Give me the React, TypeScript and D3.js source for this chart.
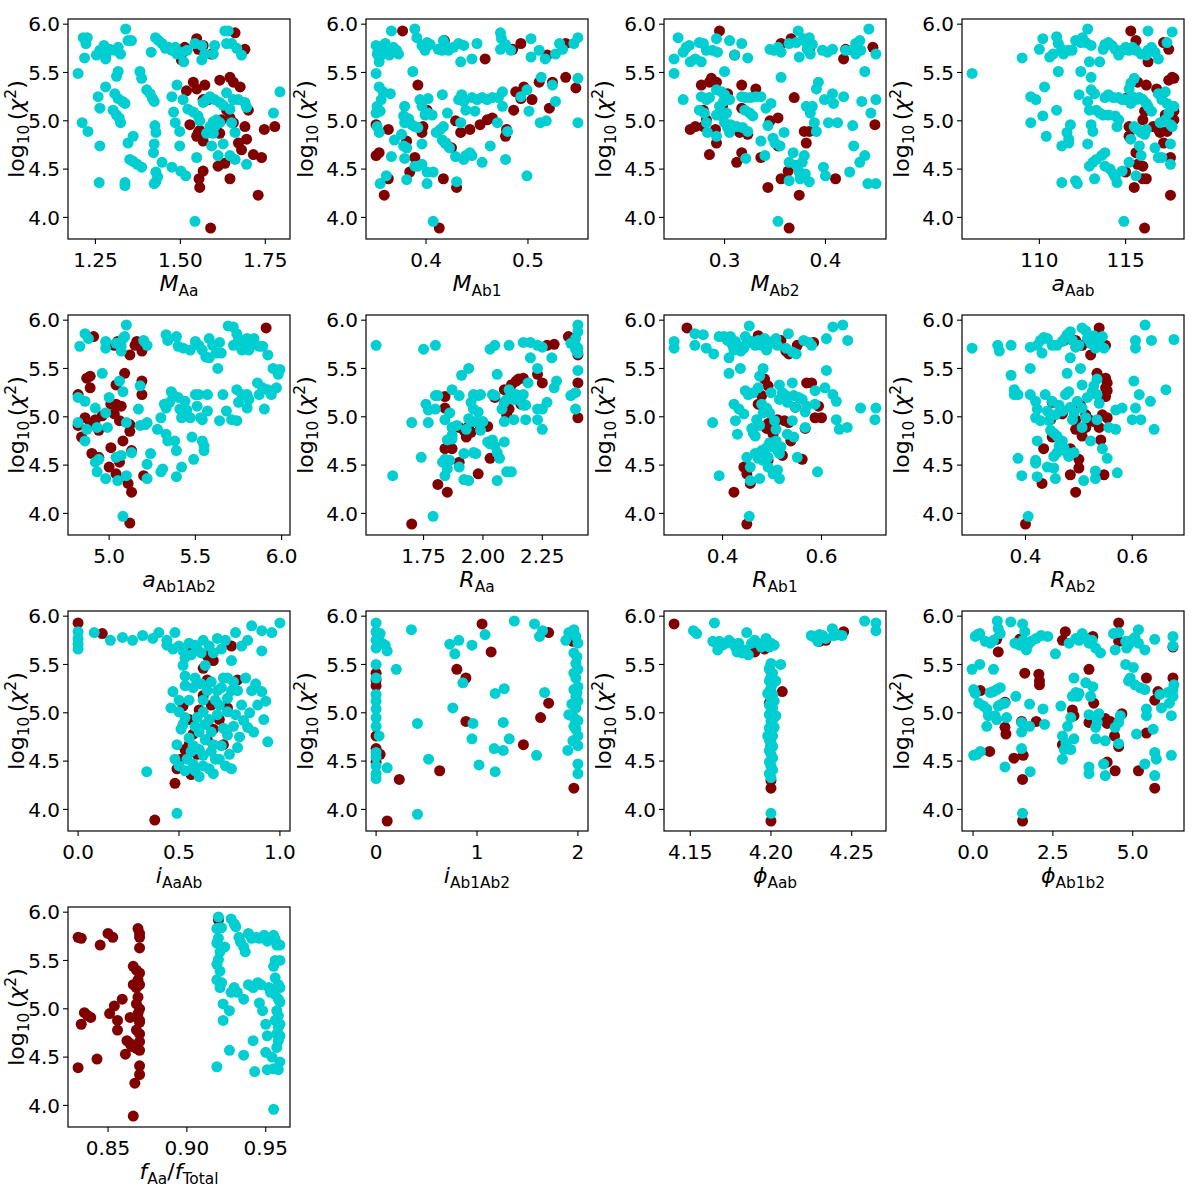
import React from "react";
import * as d3 from "d3";

type Pt = [number, number];

// ---- data: [x, log10(chi^2)] ----
const mAaRed: Pt[] = [[1.503,5.63],[1.508,5.71],[1.513,5.76],[1.548,5.85],[1.553,5.74],[1.567,5.78],[1.518,5.31],[1.538,5.40],[1.548,5.33],[1.572,5.37],[1.528,4.96],[1.553,4.88],[1.548,4.84],[1.567,4.79],[1.557,4.90],[1.567,4.48],[1.555,4.40],[1.557,4.31],[1.567,5.22],[1.582,5.22],[1.592,5.69],[1.661,5.91],[1.690,5.74],[1.616,5.42],[1.646,5.45],[1.656,5.40],[1.676,5.35],[1.621,5.01],[1.636,5.11],[1.646,5.03],[1.656,4.98],[1.616,4.87],[1.611,4.53],[1.631,4.56],[1.646,4.40],[1.671,4.77],[1.680,4.70],[1.695,4.81],[1.690,4.94],[1.700,5.11],[1.715,4.65],[1.739,4.62],[1.747,4.91],[1.778,4.94],[1.729,4.23],[1.589,3.89]];
const mAaCyan: Pt[] = [[1.199,5.49],[1.214,5.86],[1.226,5.86],[1.222,5.80],[1.218,5.65],[1.211,4.98],[1.228,4.89],[1.258,5.25],[1.263,5.13],[1.280,5.35],[1.263,4.74],[1.261,4.36],[1.253,5.68],[1.263,5.73],[1.275,5.78],[1.282,5.69],[1.280,5.64],[1.292,5.74],[1.307,5.73],[1.317,5.76],[1.324,5.69],[1.339,5.95],[1.346,5.83],[1.356,5.83],[1.317,5.51],[1.312,5.46],[1.307,5.28],[1.317,5.23],[1.330,5.20],[1.337,5.18],[1.302,5.11],[1.312,5.06],[1.320,5.03],[1.324,4.98],[1.337,4.36],[1.337,4.33],[1.346,4.77],[1.361,4.84],[1.351,4.60],[1.361,4.58],[1.373,4.55],[1.386,4.52],[1.381,5.51],[1.386,5.44],[1.401,5.32],[1.411,5.28],[1.418,5.23],[1.423,5.20],[1.414,5.71],[1.427,5.86],[1.436,5.83],[1.446,5.80],[1.456,5.75],[1.465,5.76],[1.475,5.73],[1.485,5.76],[1.490,5.69],[1.505,5.71],[1.520,5.73],[1.510,5.61],[1.425,4.95],[1.428,4.88],[1.423,4.76],[1.421,4.67],[1.428,4.47],[1.433,4.42],[1.428,4.37],[1.423,4.35],[1.446,4.57],[1.475,5.25],[1.480,5.09],[1.485,4.98],[1.490,5.37],[1.475,4.52],[1.501,4.48],[1.516,4.43],[1.498,4.89],[1.498,4.74],[1.508,5.22],[1.522,5.12],[1.538,5.09],[1.552,5.05],[1.557,5.00],[1.548,4.62],[1.543,3.96],[1.543,5.80],[1.563,5.78],[1.563,5.63],[1.572,5.69],[1.577,4.87],[1.587,4.94],[1.597,4.99],[1.601,4.94],[1.606,5.01],[1.616,4.98],[1.597,4.87],[1.592,4.74],[1.567,5.19],[1.577,5.22],[1.587,5.25],[1.601,5.22],[1.616,5.19],[1.626,5.16],[1.646,5.12],[1.597,5.69],[1.601,5.78],[1.611,4.64],[1.626,4.76],[1.631,5.93],[1.641,5.93],[1.636,5.80],[1.651,5.80],[1.666,5.75],[1.680,5.68],[1.636,5.29],[1.656,5.22],[1.671,5.22],[1.690,5.19],[1.695,5.14],[1.651,4.98],[1.661,4.88],[1.646,4.64],[1.661,4.60],[1.695,4.55],[1.774,5.08],[1.793,5.30]];

const mAb1Red: Pt[] = [[0.351,4.64],[0.354,4.67],[0.359,4.23],[0.363,4.40],[0.351,4.96],[0.363,4.91],[0.358,5.73],[0.377,5.93],[0.381,4.79],[0.384,4.47],[0.389,4.62],[0.392,5.37],[0.396,4.88],[0.397,4.94],[0.401,5.11],[0.417,4.40],[0.413,3.89],[0.419,4.77],[0.425,4.72],[0.418,5.83],[0.429,5.00],[0.434,4.88],[0.443,4.91],[0.430,4.31],[0.453,4.96],[0.460,5.01],[0.465,5.03],[0.458,5.64],[0.478,4.84],[0.479,4.91],[0.485,5.74],[0.493,5.80],[0.486,5.11],[0.488,5.30],[0.496,5.35],[0.504,5.22],[0.493,5.23],[0.511,5.40],[0.521,5.13],[0.524,5.40],[0.519,5.68],[0.537,5.80],[0.537,5.45],[0.547,5.34]];
const mAb1Cyan: Pt[] = [[0.351,5.78],[0.352,5.69],[0.355,5.74],[0.356,5.68],[0.354,5.61],[0.360,5.80],[0.361,5.73],[0.364,5.68],[0.368,5.76],[0.371,5.73],[0.373,5.69],[0.366,5.93],[0.351,5.49],[0.354,5.35],[0.358,5.30],[0.356,5.22],[0.352,5.15],[0.351,5.08],[0.355,5.10],[0.365,5.28],[0.352,4.94],[0.354,4.88],[0.355,4.35],[0.361,4.43],[0.366,4.63],[0.369,4.80],[0.379,5.15],[0.378,5.05],[0.379,4.98],[0.383,5.02],[0.386,4.96],[0.389,4.94],[0.392,4.93],[0.376,4.86],[0.378,4.74],[0.381,4.72],[0.387,5.51],[0.394,5.22],[0.396,5.15],[0.379,4.61],[0.381,4.39],[0.389,4.53],[0.392,4.53],[0.396,4.55],[0.396,4.76],[0.401,4.47],[0.401,4.35],[0.407,4.47],[0.399,5.06],[0.402,5.08],[0.406,5.06],[0.402,5.23],[0.389,5.95],[0.391,5.86],[0.396,5.78],[0.399,5.73],[0.401,5.81],[0.404,5.79],[0.412,5.74],[0.416,5.73],[0.417,5.83],[0.419,5.78],[0.422,5.73],[0.427,5.76],[0.432,5.80],[0.437,5.78],[0.434,5.61],[0.445,5.64],[0.450,5.80],[0.407,3.96],[0.410,4.88],[0.414,4.91],[0.417,4.94],[0.416,4.80],[0.419,4.77],[0.423,4.72],[0.416,5.27],[0.421,5.08],[0.429,4.63],[0.430,4.37],[0.434,4.98],[0.432,5.22],[0.435,5.27],[0.437,5.20],[0.439,5.11],[0.437,4.60],[0.439,4.64],[0.443,4.67],[0.445,4.64],[0.455,4.57],[0.445,5.24],[0.450,5.22],[0.455,5.24],[0.460,5.22],[0.465,5.24],[0.471,5.24],[0.475,5.30],[0.448,5.10],[0.463,4.74],[0.470,4.98],[0.475,5.15],[0.478,4.60],[0.480,4.89],[0.473,5.91],[0.474,5.85],[0.473,5.74],[0.478,5.79],[0.483,5.73],[0.493,5.25],[0.499,5.32],[0.501,5.10],[0.499,4.43],[0.503,5.85],[0.503,5.66],[0.511,5.73],[0.517,5.64],[0.512,4.98],[0.518,5.00],[0.513,5.45],[0.524,5.37],[0.527,5.20],[0.527,5.69],[0.531,5.80],[0.534,5.74],[0.545,5.80],[0.549,5.86],[0.549,5.44],[0.549,4.98]];

const mAb2Red: Pt[] = [[0.266,4.91],[0.271,4.94],[0.279,4.94],[0.277,5.37],[0.287,5.44],[0.285,5.40],[0.292,5.40],[0.285,4.65],[0.291,4.91],[0.292,4.77],[0.279,5.11],[0.282,5.01],[0.295,5.93],[0.298,5.15],[0.303,5.28],[0.310,5.68],[0.312,4.57],[0.317,4.67],[0.315,4.88],[0.317,5.13],[0.317,5.37],[0.323,4.86],[0.331,5.33],[0.336,4.62],[0.343,4.31],[0.345,5.00],[0.353,5.03],[0.353,4.74],[0.356,4.40],[0.363,4.48],[0.356,5.80],[0.366,5.85],[0.364,3.89],[0.374,4.23],[0.369,5.24],[0.379,4.89],[0.381,4.77],[0.384,4.89],[0.384,5.74],[0.410,4.40],[0.418,5.64],[0.420,5.74],[0.447,5.76],[0.449,4.96]];
const mAb2Cyan: Pt[] = [[0.250,5.64],[0.250,5.49],[0.254,5.86],[0.259,5.71],[0.262,5.76],[0.265,5.78],[0.266,5.61],[0.271,5.64],[0.275,5.81],[0.279,5.80],[0.282,5.73],[0.288,5.73],[0.292,5.85],[0.293,5.71],[0.277,5.61],[0.259,5.22],[0.275,5.11],[0.277,5.25],[0.282,5.22],[0.285,5.24],[0.280,5.08],[0.282,4.98],[0.283,4.88],[0.292,4.84],[0.292,5.32],[0.297,5.30],[0.300,5.27],[0.299,5.20],[0.295,5.15],[0.292,5.06],[0.297,5.05],[0.302,5.08],[0.305,5.22],[0.300,5.51],[0.305,5.83],[0.310,5.68],[0.317,5.80],[0.323,5.65],[0.300,4.98],[0.303,4.93],[0.306,4.96],[0.305,4.88],[0.312,4.94],[0.318,4.93],[0.323,4.89],[0.317,5.25],[0.321,5.24],[0.326,5.24],[0.331,5.25],[0.336,5.25],[0.320,5.11],[0.325,5.08],[0.328,5.05],[0.321,4.61],[0.340,4.64],[0.336,4.79],[0.341,5.13],[0.346,5.18],[0.343,4.95],[0.345,5.74],[0.349,5.73],[0.353,5.76],[0.356,5.71],[0.364,5.80],[0.371,5.81],[0.373,5.93],[0.348,4.82],[0.350,4.77],[0.355,4.74],[0.359,4.88],[0.356,5.45],[0.353,3.96],[0.364,4.57],[0.368,4.67],[0.364,4.38],[0.371,4.54],[0.374,4.47],[0.377,4.57],[0.379,4.64],[0.375,4.40],[0.380,4.45],[0.384,4.37],[0.378,5.85],[0.381,5.81],[0.384,5.86],[0.382,5.74],[0.387,5.79],[0.385,5.69],[0.374,5.66],[0.381,5.15],[0.387,5.15],[0.385,5.08],[0.389,4.98],[0.391,4.89],[0.393,5.40],[0.391,5.33],[0.399,5.22],[0.397,5.73],[0.402,5.71],[0.407,5.74],[0.398,4.52],[0.400,4.43],[0.403,4.98],[0.412,4.98],[0.407,5.28],[0.418,5.25],[0.408,5.18],[0.420,5.73],[0.427,5.73],[0.430,5.80],[0.434,5.83],[0.435,5.73],[0.430,5.69],[0.443,5.95],[0.450,5.69],[0.427,4.95],[0.428,4.74],[0.424,4.47],[0.439,5.51],[0.436,5.20],[0.445,5.08],[0.450,5.22],[0.439,4.64],[0.434,4.57],[0.442,4.35],[0.450,4.35]];

const aAabRed: Pt[] = [[115.0,5.23],[115.0,4.47],[115.5,4.31],[115.2,4.94],[115.2,4.84],[115.3,5.93],[115.6,5.83],[115.5,5.76],[115.7,5.40],[116.2,5.37],[115.6,4.67],[115.7,4.55],[116.0,4.53],[116.0,4.40],[116.2,4.40],[116.1,3.89],[116.0,5.01],[116.1,5.10],[116.3,5.61],[116.6,4.94],[116.8,5.33],[116.9,4.91],[117.0,4.88],[117.2,4.77],[117.3,5.06],[117.4,4.89],[117.5,5.42],[117.7,5.45],[117.8,5.44],[117.5,5.74],[117.2,5.81],[117.6,4.62],[117.6,4.23],[117.8,5.01],[117.8,5.10]];
const aAabCyan: Pt[] = [[106.1,5.49],[109.0,5.65],[109.5,5.25],[109.8,5.22],[109.5,4.98],[110.0,5.74],[110.2,5.85],[110.2,5.05],[110.3,5.35],[110.4,4.84],[110.6,5.66],[110.8,5.69],[111.0,5.87],[111.1,5.80],[111.3,5.74],[111.4,5.69],[111.7,5.73],[111.9,5.73],[111.1,5.51],[111.0,5.11],[111.3,4.74],[111.3,4.36],[111.6,4.88],[111.7,4.81],[111.8,4.96],[111.7,4.77],[112.1,4.38],[112.2,4.35],[112.1,5.83],[112.4,5.81],[112.5,5.86],[112.7,5.81],[113.0,5.78],[112.8,5.95],[112.9,5.61],[113.5,5.61],[112.4,5.51],[112.3,5.27],[113.0,5.45],[113.0,5.32],[113.2,5.28],[112.8,5.20],[112.9,5.11],[113.3,5.11],[113.5,5.08],[113.7,5.06],[114.0,5.06],[113.0,4.96],[113.1,4.89],[112.8,4.76],[112.9,4.53],[113.1,4.57],[113.3,4.60],[113.6,4.64],[113.8,4.67],[113.2,4.40],[113.8,4.53],[114.1,4.50],[114.3,4.45],[114.4,4.42],[114.5,4.36],[114.8,4.48],[113.7,5.74],[113.8,5.79],[114.0,5.81],[114.2,5.78],[114.4,5.74],[114.6,5.68],[114.8,5.73],[115.0,5.76],[115.2,5.73],[115.4,5.76],[115.6,5.73],[115.9,5.69],[116.2,5.68],[116.3,5.73],[116.5,5.76],[116.7,5.71],[116.9,5.64],[116.3,5.93],[113.8,5.24],[114.0,5.27],[114.3,5.24],[114.6,5.24],[114.8,5.22],[115.0,5.22],[115.3,5.18],[115.4,5.25],[115.6,5.22],[115.8,5.24],[116.0,5.22],[116.2,5.18],[116.3,5.15],[116.5,5.10],[114.4,5.05],[114.5,4.94],[114.6,5.01],[115.5,5.44],[115.3,5.39],[115.2,5.33],[115.3,4.81],[115.5,4.94],[115.7,4.91],[115.9,4.88],[116.1,4.86],[116.2,4.91],[115.8,4.74],[115.9,4.64],[114.9,3.96],[115.2,4.57],[115.6,4.43],[116.7,4.72],[116.9,4.62],[117.1,4.62],[116.9,5.28],[117.1,5.22],[117.3,5.30],[117.4,5.18],[117.0,4.98],[117.3,5.01],[117.5,5.08],[117.6,4.96],[117.7,4.94],[117.8,5.15],[117.6,4.76],[117.6,4.55],[117.4,5.81],[117.7,5.92]];

const aAb1Ab2Red: Pt[] = [[4.91,5.83],[5.03,5.74],[5.05,5.78],[5.12,5.64],[5.15,5.74],[5.16,5.78],[5.19,5.68],[4.87,5.40],[4.89,5.42],[4.89,5.30],[4.82,5.23],[5.09,5.45],[5.04,5.33],[5.19,5.23],[5.19,5.37],[4.82,4.91],[4.84,4.79],[4.86,4.99],[4.89,4.91],[4.92,4.97],[4.94,4.86],[4.96,5.01],[4.90,4.62],[4.94,4.58],[5.01,5.13],[5.04,5.13],[5.07,5.11],[5.03,5.03],[5.06,4.96],[5.12,4.92],[5.12,4.85],[5.08,4.75],[5.13,4.65],[5.01,4.68],[5.00,4.48],[5.04,4.41],[5.06,4.53],[5.11,4.31],[5.13,4.22],[5.20,4.39],[5.12,3.90],[5.91,5.92]];
const aAb1Ab2Cyan: Pt[] = [[4.83,5.73],[4.86,5.86],[4.88,5.81],[4.98,5.78],[4.98,5.71],[5.04,5.76],[5.07,5.73],[5.08,5.81],[5.09,5.83],[5.10,5.95],[5.07,5.68],[5.20,5.79],[5.22,5.74],[4.82,5.20],[4.86,5.16],[4.82,4.94],[4.87,4.87],[4.86,4.75],[4.93,4.89],[4.92,5.09],[4.96,5.45],[4.92,4.53],[4.94,4.56],[4.93,4.43],[4.98,4.36],[4.98,5.04],[5.00,5.20],[4.99,4.89],[5.04,4.58],[5.05,4.34],[5.07,4.60],[5.08,5.26],[5.06,5.37],[5.10,4.94],[5.10,4.39],[5.13,4.63],[5.08,3.97],[5.18,5.32],[5.17,5.08],[5.18,4.91],[5.21,4.92],[5.22,4.94],[5.22,4.51],[5.24,4.62],[5.22,4.36],[5.28,4.87],[5.30,4.99],[5.31,4.46],[5.30,4.43],[5.32,5.13],[5.33,5.09],[5.35,5.15],[5.33,4.82],[5.34,4.75],[5.36,5.26],[5.37,5.23],[5.38,4.75],[5.39,4.65],[5.39,4.38],[5.42,4.48],[5.33,5.85],[5.34,5.79],[5.39,5.83],[5.40,5.73],[5.43,5.71],[5.47,5.69],[5.50,5.78],[5.52,5.74],[5.54,5.69],[5.56,5.62],[5.58,5.61],[5.58,5.81],[5.60,5.74],[5.62,5.66],[5.63,5.50],[5.64,5.77],[5.65,5.66],[5.69,5.94],[5.72,5.93],[5.72,5.74],[5.74,5.86],[5.75,5.81],[5.76,5.74],[5.77,5.69],[5.80,5.74],[5.80,5.81],[5.81,5.69],[5.83,5.74],[5.84,5.81],[5.87,5.73],[5.89,5.73],[5.92,5.64],[5.40,5.20],[5.41,5.08],[5.42,4.99],[5.44,5.16],[5.45,5.07],[5.47,4.99],[5.50,5.23],[5.51,5.11],[5.52,5.23],[5.53,4.99],[5.57,5.23],[5.57,5.06],[5.54,4.97],[5.48,4.79],[5.49,4.56],[5.54,4.75],[5.55,4.70],[5.55,4.65],[5.64,4.96],[5.66,5.23],[5.68,5.06],[5.71,4.97],[5.74,4.96],[5.74,5.28],[5.75,5.15],[5.77,5.23],[5.80,5.23],[5.80,5.09],[5.81,5.18],[5.86,5.35],[5.87,5.23],[5.89,5.30],[5.90,5.08],[5.92,5.28],[5.94,5.23],[5.95,5.50],[5.97,5.30],[5.98,5.44],[5.99,5.49]];

const rAaRed: Pt[] = [[1.70,3.89],[1.81,4.30],[1.85,4.22],[1.84,4.67],[1.87,4.67],[1.90,4.53],[1.84,5.09],[1.84,5.21],[1.90,4.89],[1.92,4.86],[1.93,4.79],[1.94,4.90],[1.98,4.41],[2.02,4.90],[2.03,4.57],[1.95,4.84],[1.99,4.88],[2.05,5.20],[2.09,5.28],[2.10,5.02],[2.11,5.08],[2.12,5.33],[2.14,5.37],[2.15,5.39],[2.17,5.40],[2.16,5.13],[2.23,5.44],[2.25,5.35],[2.27,5.74],[2.30,5.75],[2.36,5.83],[2.40,5.35],[2.40,4.99],[2.40,5.64]];
const rAaCyan: Pt[] = [[1.55,5.74],[1.75,5.70],[1.80,5.74],[1.70,4.94],[1.74,4.58],[1.62,4.39],[1.79,3.97],[1.77,4.94],[1.76,5.13],[1.77,5.07],[1.80,5.22],[1.81,5.22],[1.80,5.08],[1.83,4.53],[1.84,4.39],[1.85,4.46],[1.84,4.56],[1.86,4.55],[1.85,4.76],[1.84,4.97],[1.87,5.28],[1.86,5.04],[1.87,4.89],[1.87,4.81],[1.89,4.91],[1.87,4.77],[1.90,4.48],[1.92,4.62],[1.90,5.22],[1.91,5.43],[1.94,5.50],[1.92,4.35],[1.94,4.34],[1.93,4.87],[1.94,4.98],[1.95,5.15],[1.96,5.23],[1.95,4.95],[1.96,5.08],[1.97,4.95],[1.98,5.05],[1.98,5.22],[1.99,5.23],[1.96,4.63],[1.97,4.62],[1.99,4.86],[2.00,4.95],[2.02,4.74],[2.03,4.72],[2.04,4.76],[2.05,4.70],[2.06,4.63],[2.07,4.57],[2.09,4.74],[2.09,4.95],[2.04,5.23],[2.05,5.22],[2.06,5.44],[2.06,4.34],[2.03,5.70],[2.05,5.74],[2.11,5.74],[2.08,5.08],[2.09,5.15],[2.10,5.18],[2.11,5.28],[2.12,5.22],[2.13,5.18],[2.14,5.23],[2.15,5.22],[2.16,5.16],[2.17,5.12],[2.18,5.12],[2.17,5.23],[2.13,4.97],[2.10,4.43],[2.12,4.43],[2.17,5.77],[2.20,5.61],[2.20,5.77],[2.23,5.74],[2.23,5.50],[2.25,5.72],[2.29,5.61],[2.19,5.35],[2.18,4.97],[2.23,5.08],[2.23,4.97],[2.25,4.87],[2.25,5.08],[2.27,5.15],[2.30,5.30],[2.31,5.37],[2.37,5.22],[2.39,5.08],[2.39,5.25],[2.40,5.48],[2.40,5.95],[2.40,5.88],[2.39,5.81],[2.38,5.77],[2.39,5.74],[2.40,5.71],[2.39,5.70],[2.37,5.76],[2.40,5.66]];

const rAb1Red: Pt[] = [[0.328,5.92],[0.472,5.84],[0.518,5.79],[0.528,5.68],[0.534,5.65],[0.551,5.74],[0.584,5.77],[0.485,5.39],[0.492,5.32],[0.479,5.22],[0.472,5.13],[0.492,4.93],[0.489,4.88],[0.498,4.88],[0.502,4.82],[0.511,4.97],[0.525,4.96],[0.534,4.94],[0.538,4.75],[0.443,4.48],[0.449,4.41],[0.456,4.31],[0.423,4.22],[0.449,3.89],[0.492,4.55],[0.521,4.60],[0.561,4.56],[0.547,5.10],[0.567,4.88],[0.570,5.35],[0.580,5.35],[0.587,4.99],[0.594,5.11],[0.600,4.99]];
const rAb1Cyan: Pt[] = [[0.302,5.78],[0.302,5.71],[0.344,5.86],[0.344,5.74],[0.361,5.85],[0.367,5.71],[0.382,5.65],[0.393,5.83],[0.403,5.83],[0.410,5.79],[0.416,5.83],[0.413,5.61],[0.420,5.74],[0.423,5.69],[0.426,5.78],[0.433,5.73],[0.437,5.68],[0.443,5.71],[0.446,5.83],[0.449,5.76],[0.454,5.94],[0.459,5.78],[0.466,5.74],[0.472,5.79],[0.479,5.74],[0.485,5.81],[0.489,5.69],[0.492,5.78],[0.502,5.76],[0.508,5.81],[0.511,5.74],[0.528,5.71],[0.533,5.86],[0.541,5.67],[0.549,5.65],[0.564,5.79],[0.575,5.77],[0.580,5.74],[0.413,5.45],[0.436,5.50],[0.380,4.94],[0.393,4.39],[0.423,5.13],[0.426,4.96],[0.433,5.08],[0.430,4.82],[0.443,5.03],[0.446,5.27],[0.452,5.23],[0.462,5.25],[0.466,4.80],[0.459,4.88],[0.462,4.83],[0.449,4.58],[0.456,4.48],[0.456,4.34],[0.454,3.97],[0.472,5.30],[0.475,5.42],[0.482,5.50],[0.479,5.13],[0.482,5.04],[0.469,4.97],[0.475,4.91],[0.489,5.09],[0.495,5.04],[0.498,5.25],[0.505,4.96],[0.508,4.87],[0.466,4.62],[0.472,4.57],[0.479,4.65],[0.482,4.55],[0.489,4.68],[0.495,4.73],[0.502,4.69],[0.508,4.75],[0.511,4.65],[0.515,4.62],[0.518,4.69],[0.492,4.58],[0.475,4.36],[0.492,4.48],[0.502,4.41],[0.511,4.45],[0.515,4.36],[0.515,5.33],[0.521,5.25],[0.515,5.18],[0.528,5.22],[0.531,5.15],[0.541,5.35],[0.544,5.22],[0.547,5.10],[0.554,5.20],[0.561,5.18],[0.567,5.05],[0.570,5.11],[0.587,5.13],[0.587,5.27],[0.531,4.82],[0.541,4.96],[0.544,4.79],[0.551,4.58],[0.567,4.89],[0.592,4.43],[0.607,5.30],[0.610,5.48],[0.623,5.23],[0.630,5.16],[0.630,4.97],[0.636,4.87],[0.652,4.89],[0.679,5.09],[0.708,4.97],[0.710,5.09],[0.610,5.81],[0.623,5.93],[0.643,5.95],[0.653,5.79]];

const rAb2Red: Pt[] = [[0.472,5.79],[0.494,5.79],[0.506,5.74],[0.522,5.64],[0.538,5.92],[0.550,5.74],[0.534,5.45],[0.550,5.40],[0.550,5.30],[0.553,5.27],[0.550,5.21],[0.553,5.35],[0.450,5.15],[0.447,4.97],[0.450,4.79],[0.434,4.67],[0.431,4.31],[0.469,5.03],[0.494,4.97],[0.494,4.87],[0.503,5.12],[0.506,4.80],[0.513,4.89],[0.513,5.02],[0.484,4.67],[0.500,4.56],[0.500,4.47],[0.484,4.40],[0.494,4.22],[0.400,3.89],[0.519,4.97],[0.528,4.95],[0.538,4.89],[0.544,5.02],[0.553,4.99],[0.541,4.76],[0.547,4.40]];
const rAb2Cyan: Pt[] = [[0.300,5.71],[0.348,5.74],[0.351,5.68],[0.373,5.74],[0.373,5.43],[0.379,5.28],[0.379,5.23],[0.386,5.23],[0.386,4.57],[0.393,4.39],[0.405,3.97],[0.409,5.50],[0.409,5.72],[0.409,5.23],[0.419,5.16],[0.419,4.99],[0.422,5.08],[0.428,4.96],[0.422,4.75],[0.419,4.55],[0.419,4.52],[0.422,4.38],[0.422,5.74],[0.428,5.79],[0.434,5.82],[0.441,5.81],[0.431,5.66],[0.437,5.23],[0.441,5.06],[0.444,4.96],[0.441,4.48],[0.450,5.74],[0.459,5.74],[0.469,5.78],[0.475,5.82],[0.478,5.85],[0.484,5.88],[0.488,5.79],[0.494,5.72],[0.500,5.74],[0.506,5.92],[0.513,5.89],[0.516,5.81],[0.522,5.76],[0.528,5.84],[0.531,5.71],[0.538,5.76],[0.544,5.83],[0.547,5.71],[0.484,5.61],[0.478,5.45],[0.503,5.50],[0.506,5.33],[0.516,5.20],[0.525,5.26],[0.528,5.32],[0.534,5.23],[0.538,5.14],[0.534,5.39],[0.450,5.16],[0.456,5.02],[0.463,5.12],[0.469,5.06],[0.475,5.23],[0.481,5.26],[0.484,5.10],[0.488,4.97],[0.491,5.04],[0.497,5.16],[0.506,5.09],[0.513,4.99],[0.447,4.86],[0.453,4.83],[0.459,4.80],[0.469,4.75],[0.463,4.70],[0.459,4.63],[0.453,4.59],[0.472,4.68],[0.478,4.63],[0.481,4.59],[0.491,4.63],[0.506,4.89],[0.522,4.75],[0.453,4.47],[0.456,4.36],[0.509,4.34],[0.531,4.44],[0.531,4.36],[0.534,4.97],[0.544,4.67],[0.553,4.57],[0.556,4.89],[0.569,4.87],[0.572,4.42],[0.569,5.07],[0.581,5.09],[0.603,5.37],[0.606,5.09],[0.600,4.97],[0.613,5.23],[0.616,4.97],[0.634,5.16],[0.641,4.87],[0.663,5.28],[0.606,5.71],[0.606,5.79],[0.624,5.95],[0.636,5.79],[0.678,5.80]];

const iAaAbRed: Pt[] = [[0.00,5.93],[0.12,5.82],[0.38,3.89],[0.48,4.27],[0.49,4.42],[0.51,4.52],[0.53,4.62],[0.55,4.67],[0.57,4.78],[0.55,4.93],[0.60,5.03],[0.62,5.18],[0.64,5.34],[0.62,5.46],[0.67,5.54],[0.70,4.93],[0.72,4.67],[0.67,4.83],[0.74,5.05],[0.79,5.34],[0.76,5.69],[0.64,5.59],[0.57,5.64],[0.56,4.36],[0.59,4.57],[0.64,4.72],[0.52,5.07],[0.66,5.08]];
const iAaAbCyan: Pt[] = [[0.00,5.84],[0.00,5.77],[0.00,5.71],[0.00,5.66],[0.08,5.83],[0.16,5.75],[0.22,5.78],[0.27,5.75],[0.32,5.80],[0.37,5.77],[0.40,5.83],[0.44,5.75],[0.48,5.83],[0.50,5.69],[0.52,5.64],[0.55,5.72],[0.59,5.66],[0.62,5.75],[0.65,5.69],[0.69,5.77],[0.73,5.75],[0.78,5.83],[0.81,5.69],[0.86,5.90],[0.91,5.85],[0.96,5.83],[1.00,5.93],[0.91,5.64],[0.84,5.75],[0.34,4.39],[0.49,3.96],[0.52,5.49],[0.50,5.13],[0.50,5.01],[0.52,4.88],[0.55,4.74],[0.56,4.60],[0.57,4.47],[0.60,4.34],[0.62,5.13],[0.64,5.23],[0.65,4.93],[0.67,4.67],[0.68,4.52],[0.70,5.08],[0.72,5.36],[0.74,4.77],[0.76,5.23],[0.78,4.98],[0.79,4.64],[0.81,5.08],[0.84,4.85],[0.86,5.23],[0.89,5.08],[0.92,4.93],[0.94,4.70],[0.70,4.52],[0.67,4.37],[0.60,4.80],[0.59,4.95],[0.62,5.01],[0.55,5.13],[0.57,5.26],[0.60,4.62],[0.63,4.72],[0.54,4.52],[0.49,4.67],[0.48,4.52],[0.51,4.83],[0.74,5.01],[0.75,4.57],[0.76,4.42],[0.65,4.42],[0.79,5.23],[0.68,5.13],[0.69,5.23],[0.63,5.49],[0.76,5.54],[0.74,5.36],[0.46,5.05],[0.47,5.22],[0.53,5.28],[0.53,5.38],[0.58,5.36],[0.61,5.30],[0.66,5.32],[0.71,5.26],[0.77,5.32],[0.83,5.36],[0.88,5.30],[0.91,5.22],[0.93,5.12],[0.85,5.00],[0.82,4.92],[0.87,4.80],[0.80,4.75],[0.77,4.86],[0.72,4.84],[0.66,4.80],[0.63,4.88],[0.58,4.86],[0.53,4.95],[0.57,4.66],[0.62,4.56],[0.66,4.60],[0.71,4.66],[0.73,4.45],[0.62,4.45],[0.58,4.40],[0.53,4.40],[0.50,4.45],[0.69,4.98],[0.74,5.15],[0.56,5.60],[0.53,5.57],[0.58,5.70],[0.61,5.62],[0.67,5.62],[0.71,5.66],[0.47,5.66],[0.44,5.70]];

const iAb1Ab2Red: Pt[] = [[0.00,5.41],[0.00,5.34],[0.00,5.28],[0.00,4.76],[0.00,4.63],[0.04,4.57],[0.00,4.49],[0.11,3.88],[0.23,4.31],[0.63,4.40],[0.80,5.45],[0.89,5.36],[0.89,4.91],[1.05,5.92],[1.14,5.63],[1.46,4.67],[1.63,4.95],[1.71,5.10],[1.71,5.83],[1.96,4.22],[1.95,5.74]];
const iAb1Ab2Cyan: Pt[] = [[0.00,5.93],[0.00,5.84],[0.01,5.81],[0.00,5.75],[0.02,5.72],[0.00,5.67],[0.04,5.82],[0.06,5.72],[0.09,5.70],[0.11,5.64],[0.00,5.50],[0.00,5.36],[0.00,5.19],[0.00,5.12],[0.00,5.04],[0.00,4.95],[0.00,4.86],[0.00,4.59],[0.00,4.54],[0.00,4.45],[0.00,4.37],[0.00,4.32],[0.03,4.76],[0.11,4.43],[0.20,5.45],[0.35,5.86],[0.41,3.95],[0.41,4.89],[0.52,4.52],[0.73,5.71],[0.78,5.61],[0.82,5.75],[0.76,5.05],[0.86,5.31],[0.95,5.70],[0.96,4.89],[0.95,4.73],[1.02,4.46],[1.08,5.81],[1.18,5.20],[1.27,5.25],[1.26,4.90],[1.17,4.63],[1.26,4.61],[1.32,4.73],[1.18,4.39],[1.37,5.95],[1.57,5.92],[1.62,5.79],[1.65,5.85],[1.67,5.21],[1.59,4.56],[1.88,5.75],[1.91,5.83],[1.96,5.86],[1.98,5.79],[2.00,5.72],[1.96,5.62],[1.98,5.51],[2.00,5.45],[1.98,5.36],[2.00,5.27],[1.96,5.24],[1.98,5.17],[2.00,5.12],[1.94,5.09],[1.98,5.05],[1.91,4.98],[1.96,4.95],[2.00,4.92],[1.98,4.83],[2.00,4.76],[1.95,4.71],[2.00,4.66],[1.90,4.61],[2.00,4.47],[2.00,4.37],[1.99,5.58],[1.96,5.41],[1.99,5.21],[1.96,4.86]];

const phiAabRed: Pt[] = [[4.140,5.92],[4.190,5.63],[4.196,5.66],[4.207,5.22],[4.200,4.22],[4.200,3.88],[4.199,5.10],[4.200,4.66],[4.200,4.30],[4.245,5.84],[4.234,5.75],[4.230,5.74]];
const phiAabCyan: Pt[] = [[4.152,5.85],[4.154,5.82],[4.165,5.93],[4.164,5.74],[4.166,5.72],[4.168,5.74],[4.167,5.65],[4.170,5.70],[4.172,5.72],[4.174,5.75],[4.176,5.72],[4.178,5.68],[4.180,5.72],[4.179,5.63],[4.182,5.62],[4.184,5.65],[4.185,5.83],[4.186,5.60],[4.188,5.72],[4.190,5.75],[4.192,5.72],[4.194,5.68],[4.197,5.77],[4.200,5.72],[4.202,5.70],[4.199,5.68],[4.206,5.50],[4.199,5.46],[4.200,5.51],[4.199,5.45],[4.201,5.41],[4.200,5.37],[4.199,5.33],[4.201,5.30],[4.200,5.26],[4.199,5.22],[4.201,5.19],[4.200,5.15],[4.202,5.12],[4.199,5.08],[4.201,5.05],[4.200,5.01],[4.199,4.98],[4.202,4.95],[4.200,4.91],[4.201,4.87],[4.199,4.84],[4.200,4.80],[4.201,4.76],[4.199,4.72],[4.200,4.69],[4.201,4.65],[4.199,4.61],[4.200,4.57],[4.201,4.53],[4.199,4.49],[4.200,4.45],[4.201,4.41],[4.199,4.37],[4.200,4.33],[4.203,5.33],[4.203,4.97],[4.202,4.85],[4.198,5.20],[4.198,4.76],[4.200,3.96],[4.225,5.80],[4.227,5.78],[4.229,5.74],[4.230,5.81],[4.232,5.80],[4.234,5.77],[4.238,5.87],[4.239,5.80],[4.241,5.81],[4.244,5.80],[4.258,5.95],[4.265,5.93],[4.265,5.85]];

const phiAb1b2Red: Pt[] = [[0.74,5.76],[0.79,5.63],[0.52,4.60],[0.23,5.23],[1.00,4.85],[1.03,4.78],[1.00,5.11],[1.46,5.76],[1.62,5.41],[1.52,4.91],[1.28,4.53],[1.57,4.56],[1.55,4.31],[1.55,3.88],[2.06,5.40],[2.08,5.33],[2.08,5.29],[1.98,4.91],[2.80,4.67],[2.89,5.84],[2.80,5.75],[3.11,5.03],[3.16,4.97],[3.63,5.45],[3.63,4.90],[3.78,5.10],[3.75,5.79],[4.14,4.94],[4.20,4.89],[4.30,4.91],[4.43,4.76],[4.45,4.40],[4.20,4.49],[4.56,5.93],[4.56,5.74],[4.66,4.99],[4.56,4.65],[5.18,4.40],[5.43,5.36],[5.43,4.79],[5.69,5.13],[5.79,5.22],[5.69,4.22],[6.26,5.36],[6.26,5.68]];
const phiAb1b2Cyan: Pt[] = [[-0.03,5.45],[0.02,5.24],[0.07,5.20],[0.07,5.79],[0.14,5.81],[0.21,5.82],[0.02,4.56],[0.12,4.57],[0.23,4.60],[0.21,5.50],[0.38,5.74],[0.54,5.72],[0.64,5.75],[0.18,5.10],[0.33,5.07],[0.43,5.04],[0.48,4.97],[0.43,4.86],[0.54,5.21],[0.64,5.22],[0.74,5.24],[0.85,5.26],[0.64,5.45],[0.69,4.97],[0.74,4.93],[0.79,5.07],[0.90,5.09],[1.00,5.10],[1.05,4.95],[1.00,4.44],[0.76,5.95],[0.79,5.87],[0.85,5.82],[1.18,5.94],[1.31,5.72],[1.46,5.70],[1.55,5.92],[1.62,5.84],[1.57,5.75],[1.72,5.70],[1.67,5.65],[1.82,5.74],[1.98,5.77],[2.13,5.80],[2.34,5.79],[1.34,5.17],[1.77,5.09],[2.19,5.04],[2.24,4.88],[1.52,4.80],[1.52,4.63],[1.55,3.96],[1.79,4.39],[1.52,4.90],[1.77,4.86],[2.58,5.61],[2.75,5.07],[2.80,4.76],[2.80,4.52],[2.86,4.62],[2.91,4.69],[2.96,4.86],[3.01,5.72],[3.06,4.62],[3.06,4.95],[3.16,4.73],[3.11,5.17],[3.16,5.36],[3.22,5.21],[3.27,5.17],[3.32,5.20],[3.22,5.77],[3.32,5.75],[3.42,5.82],[3.53,5.77],[3.63,5.72],[3.73,5.75],[3.84,5.67],[3.99,5.62],[3.53,5.31],[3.68,5.17],[3.75,5.27],[3.63,4.98],[3.84,4.96],[3.89,4.90],[3.84,4.73],[3.63,4.44],[3.63,4.37],[4.14,4.71],[4.09,4.47],[4.14,4.35],[3.84,4.85],[3.94,4.99],[4.40,5.82],[4.56,5.83],[4.45,5.65],[4.56,4.90],[4.45,4.85],[4.61,4.97],[4.56,4.68],[4.78,5.74],[4.81,5.67],[4.87,5.70],[4.97,5.75],[5.07,5.78],[5.18,5.86],[5.18,5.72],[5.38,5.65],[4.78,5.50],[4.92,5.36],[5.02,5.47],[4.87,5.33],[5.07,5.29],[5.23,5.26],[5.38,5.24],[5.12,4.78],[5.38,4.47],[5.43,4.97],[5.43,5.04],[5.64,4.83],[5.69,5.76],[5.69,4.59],[5.74,4.52],[5.69,4.35],[5.85,5.19],[5.90,5.05],[6.10,5.21],[6.15,5.10],[6.21,4.97],[6.26,5.24],[6.29,5.29],[6.26,5.69],[6.26,5.79],[6.21,4.56],[6.26,5.17]];

const fRatioRed: Pt[] = [[0.831,4.39],[0.831,5.74],[0.833,5.73],[0.833,4.84],[0.835,4.96],[0.837,4.93],[0.839,4.91],[0.843,4.48],[0.845,5.66],[0.850,5.78],[0.853,5.74],[0.851,4.95],[0.854,5.03],[0.856,4.88],[0.856,4.78],[0.859,5.10],[0.861,4.53],[0.862,4.67],[0.864,4.64],[0.864,4.91],[0.865,4.61],[0.866,5.25],[0.866,5.44],[0.869,5.83],[0.870,5.78],[0.870,5.74],[0.870,5.63],[0.868,5.40],[0.870,5.37],[0.869,5.30],[0.870,5.25],[0.868,5.22],[0.869,5.12],[0.870,5.00],[0.869,4.95],[0.870,4.88],[0.868,4.78],[0.870,4.74],[0.870,4.66],[0.868,4.59],[0.870,4.57],[0.870,4.41],[0.870,4.32],[0.867,4.23],[0.866,3.89],[0.868,5.05],[0.870,4.86],[0.920,5.92]];
const fRatioCyan: Pt[] = [[0.920,5.95],[0.919,5.83],[0.920,5.73],[0.919,5.68],[0.921,5.59],[0.920,5.51],[0.919,5.46],[0.921,5.39],[0.919,5.30],[0.922,5.27],[0.921,5.22],[0.919,4.40],[0.922,5.84],[0.924,5.64],[0.923,5.05],[0.923,4.88],[0.927,4.98],[0.927,4.57],[0.928,5.93],[0.930,5.88],[0.931,5.85],[0.928,5.17],[0.930,5.22],[0.932,5.17],[0.933,5.74],[0.934,5.69],[0.936,5.64],[0.937,5.59],[0.936,5.10],[0.936,4.52],[0.939,5.78],[0.941,5.73],[0.942,4.67],[0.943,4.35],[0.939,5.25],[0.942,5.22],[0.944,5.74],[0.946,5.73],[0.945,5.27],[0.947,5.25],[0.948,4.98],[0.946,5.06],[0.949,5.76],[0.951,5.70],[0.950,4.84],[0.950,4.55],[0.951,4.72],[0.951,4.37],[0.952,5.22],[0.953,5.17],[0.955,5.76],[0.955,5.44],[0.954,4.50],[0.955,4.38],[0.956,5.72],[0.957,5.66],[0.956,5.50],[0.956,5.32],[0.958,5.25],[0.956,5.15],[0.958,5.10],[0.957,4.98],[0.958,4.93],[0.956,4.88],[0.958,4.81],[0.957,4.74],[0.958,4.67],[0.957,4.60],[0.959,4.45],[0.958,4.37],[0.959,5.50],[0.959,5.66],[0.955,3.96],[0.959,5.22],[0.959,5.07],[0.959,4.84],[0.959,4.72]];

// ---- ticks ----
const yTicks = [4.0, 4.5, 5.0, 5.5, 6.0];
const yTickLabels = ["4.0", "4.5", "5.0", "5.5", "6.0"];
const mAaTicks = [1.25, 1.5, 1.75];
const mAaTickLabels = ["1.25", "1.50", "1.75"];
const mAb1Ticks = [0.4, 0.5];
const mAb1TickLabels = ["0.4", "0.5"];
const mAb2Ticks = [0.3, 0.4];
const mAb2TickLabels = ["0.3", "0.4"];
const aAabTicks = [110, 115];
const aAabTickLabels = ["110", "115"];
const aAb1Ab2Ticks = [5.0, 5.5, 6.0];
const aAb1Ab2TickLabels = ["5.0", "5.5", "6.0"];
const rAaTicks = [1.75, 2.0, 2.25];
const rAaTickLabels = ["1.75", "2.00", "2.25"];
const rAb1Ticks = [0.4, 0.6];
const rAb1TickLabels = ["0.4", "0.6"];
const rAb2Ticks = [0.4, 0.6];
const rAb2TickLabels = ["0.4", "0.6"];
const iAaAbTicks = [0.0, 0.5, 1.0];
const iAaAbTickLabels = ["0.0", "0.5", "1.0"];
const iAb1Ab2Ticks = [0, 1, 2];
const iAb1Ab2TickLabels = ["0", "1", "2"];
const phiAabTicks = [4.15, 4.2, 4.25];
const phiAabTickLabels = ["4.15", "4.20", "4.25"];
const phiAb1b2Ticks = [0.0, 2.5, 5.0];
const phiAb1b2TickLabels = ["0.0", "2.5", "5.0"];
const fRatioTicks = [0.85, 0.9, 0.95];
const fRatioTickLabels = ["0.85", "0.90", "0.95"];

type Part = { t: string; it?: boolean; pos?: "sub" | "sup" };

const sym = (s: string, sub: string): Part[] => [{ t: s, it: true }, { t: sub, pos: "sub" }];

const panels = [
  { red: mAaRed, cyan: mAaCyan, ticks: mAaTicks, tickLabels: mAaTickLabels, label: sym("M", "Aa") },
  { red: mAb1Red, cyan: mAb1Cyan, ticks: mAb1Ticks, tickLabels: mAb1TickLabels, label: sym("M", "Ab1") },
  { red: mAb2Red, cyan: mAb2Cyan, ticks: mAb2Ticks, tickLabels: mAb2TickLabels, label: sym("M", "Ab2") },
  { red: aAabRed, cyan: aAabCyan, ticks: aAabTicks, tickLabels: aAabTickLabels, label: sym("a", "Aab") },
  { red: aAb1Ab2Red, cyan: aAb1Ab2Cyan, ticks: aAb1Ab2Ticks, tickLabels: aAb1Ab2TickLabels, label: sym("a", "Ab1Ab2") },
  { red: rAaRed, cyan: rAaCyan, ticks: rAaTicks, tickLabels: rAaTickLabels, label: sym("R", "Aa") },
  { red: rAb1Red, cyan: rAb1Cyan, ticks: rAb1Ticks, tickLabels: rAb1TickLabels, label: sym("R", "Ab1") },
  { red: rAb2Red, cyan: rAb2Cyan, ticks: rAb2Ticks, tickLabels: rAb2TickLabels, label: sym("R", "Ab2") },
  { red: iAaAbRed, cyan: iAaAbCyan, ticks: iAaAbTicks, tickLabels: iAaAbTickLabels, label: sym("i", "AaAb") },
  { red: iAb1Ab2Red, cyan: iAb1Ab2Cyan, ticks: iAb1Ab2Ticks, tickLabels: iAb1Ab2TickLabels, label: sym("i", "Ab1Ab2") },
  { red: phiAabRed, cyan: phiAabCyan, ticks: phiAabTicks, tickLabels: phiAabTickLabels, label: sym("\u03d5", "Aab") },
  { red: phiAb1b2Red, cyan: phiAb1b2Cyan, ticks: phiAb1b2Ticks, tickLabels: phiAb1b2TickLabels, label: sym("\u03d5", "Ab1b2") },
  {
    red: fRatioRed, cyan: fRatioCyan, ticks: fRatioTicks, tickLabels: fRatioTickLabels,
    label: [...sym("f", "Aa"), { t: "/" }, ...sym("f", "Total")],
  },
];

const yLabel: Part[] = [{ t: "log" }, { t: "10", pos: "sub" }, { t: "\u2009(" }, { t: "\u03c7", it: true }, { t: "2", pos: "sup" }, { t: ")" }];

const FONT = "DejaVu Sans, Verdana, sans-serif";
const TICK_SIZE = 20;
const LABEL_SIZE = 22;
const RED = "#800000";
const CYAN = "#00ced1";

// subplot grid
const LEFT0 = 68;
const TOP0 = 19;
const COL_STEP = 298;
const ROW_STEP = 296;
const W = 222;
const H = 220;

// matplotlib-like 5% autoscale margin
function padded(vals: number[]): [number, number] {
  const [lo, hi] = d3.extent(vals) as [number, number];
  const m = (hi - lo) * 0.05;
  return [lo - m, hi + m];
}

const yDomain = padded(panels.flatMap((p) => [...p.red, ...p.cyan].map((d) => d[1])));

function RichText({ parts, size, ...rest }: any) {
  let cur = 0;
  return (
    <text fontSize={size} fontFamily={FONT} {...rest}>
      {parts.map((p: Part, i: number) => {
        const off = p.pos === "sub" ? 0.24 * size : p.pos === "sup" ? -0.36 * size : 0;
        const dy = off - cur;
        cur = off;
        return (
          <tspan key={i} dy={dy} fontSize={p.pos ? size * 0.7 : size} fontStyle={p.it ? "italic" : "normal"}>
            {p.t}
          </tspan>
        );
      })}
    </text>
  );
}

function Panel({ p, idx }: any) {
  const col = idx % 4;
  const row = Math.floor(idx / 4);
  const left = LEFT0 + col * COL_STEP;
  const top = TOP0 + row * ROW_STEP;
  const x = d3.scaleLinear().domain(padded([...p.red, ...p.cyan].map((d: Pt) => d[0]))).range([0, W]);
  const y = d3.scaleLinear().domain(yDomain).range([H, 0]);
  // first column sits at the page edge: keep its y label just inside
  const yLabelX = Math.max(left - 53, 24);
  return (
    <g>
      <g transform={`translate(${left},${top})`}>
        {p.red.map((d: Pt, i: number) => (
          <circle key={"r" + i} cx={x(d[0])} cy={y(d[1])} r={5.5} fill={RED} />
        ))}
        {p.cyan.map((d: Pt, i: number) => (
          <circle key={"c" + i} cx={x(d[0])} cy={y(d[1])} r={5.5} fill={CYAN} />
        ))}
        <rect x={0} y={0} width={W} height={H} fill="none" stroke="#000" strokeWidth={1.2} />
        {p.ticks.map((t: number, i: number) => (
          <g key={"x" + i} transform={`translate(${x(t)},${H})`}>
            <line y2={5} stroke="#000" strokeWidth={1.1} />
            <text y={28} textAnchor="middle" fontSize={TICK_SIZE} fontFamily={FONT}>
              {p.tickLabels[i]}
            </text>
          </g>
        ))}
        {yTicks.map((t, i) => (
          <g key={"y" + i} transform={`translate(0,${y(t)})`}>
            <line x2={-5} stroke="#000" strokeWidth={1.1} />
            <text x={-8} dy="0.36em" textAnchor="end" fontSize={TICK_SIZE} fontFamily={FONT}>
              {yTickLabels[i]}
            </text>
          </g>
        ))}
      </g>
      <RichText parts={p.label} size={LABEL_SIZE} x={left + W / 2} y={top + H + 52} textAnchor="middle" />
      <RichText
        parts={yLabel}
        size={LABEL_SIZE}
        transform={`translate(${yLabelX},${top + H / 2}) rotate(-90)`}
        textAnchor="middle"
      />
    </g>
  );
}

export default function App() {
  return (
    <svg
      width={1200}
      height={1200}
      viewBox="0 0 1200 1200"
      style={{ position: "absolute", left: 0, top: 0, background: "#fff" }}
    >
      <rect width={1200} height={1200} fill="#fff" />
      {panels.map((p, i) => (
        <Panel key={i} p={p} idx={i} />
      ))}
    </svg>
  );
}
